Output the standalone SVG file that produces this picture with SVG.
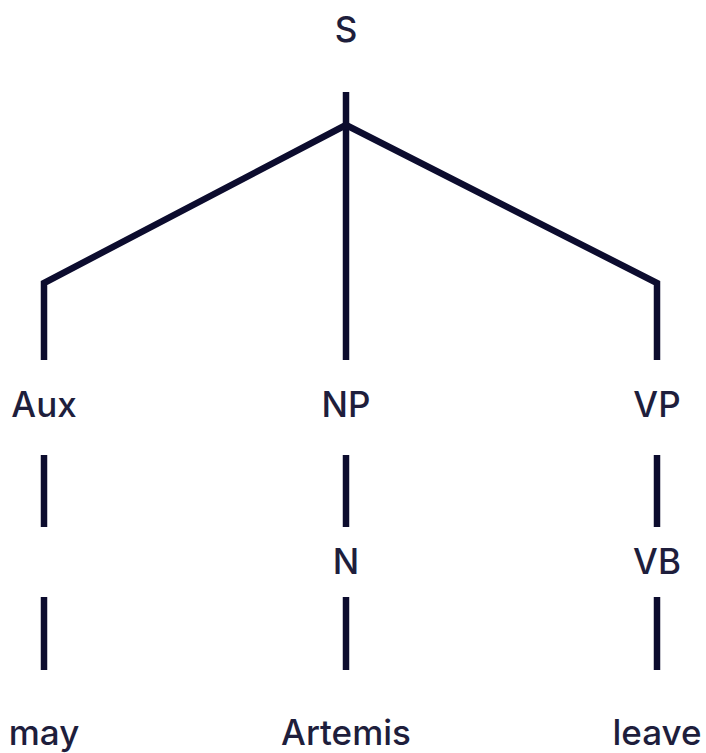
<svg xmlns="http://www.w3.org/2000/svg" width="706" height="753" viewBox="0 0 706 753">
<style>
.t{font-family:Inter,"Noto Sans","DejaVu Sans",sans-serif;font-size:35px;font-weight:500;fill:#1e1e3c;text-anchor:middle}
.e{fill:none;stroke:#0c0c2e;stroke-width:6.5;stroke-linejoin:miter}
</style>
<rect width="706" height="753" fill="#ffffff"/>
<g id="connectors">
<line class="e" x1="346" y1="92" x2="346" y2="360"/>
<polyline class="e" points="44,360 44,283 346,125 657,283 657,360"/>
<line class="e" x1="44" y1="455" x2="44" y2="527"/>
<line class="e" x1="44" y1="597" x2="44" y2="670"/>
<line class="e" x1="346" y1="455" x2="346" y2="527"/>
<line class="e" x1="346" y1="597" x2="346" y2="670"/>
<line class="e" x1="657" y1="455" x2="657" y2="527"/>
<line class="e" x1="657" y1="597" x2="657" y2="670"/>
</g>
<g id="S"><text class="t" x="346" y="42">S</text></g>
<g id="Aux"><text class="t" x="44" y="417">Aux</text></g>
<g id="NP"><text class="t" x="346" y="417">NP</text></g>
<g id="VP"><text class="t" x="657" y="417">VP</text></g>
<g id="N"><text class="t" x="346" y="574">N</text></g>
<g id="VB"><text class="t" x="657" y="574">VB</text></g>
<g id="may"><text class="t" x="44" y="745">may</text></g>
<g id="Artemis"><text class="t" x="346" y="745">Artemis</text></g>
<g id="leave"><text class="t" x="657" y="745">leave</text></g>
</svg>
